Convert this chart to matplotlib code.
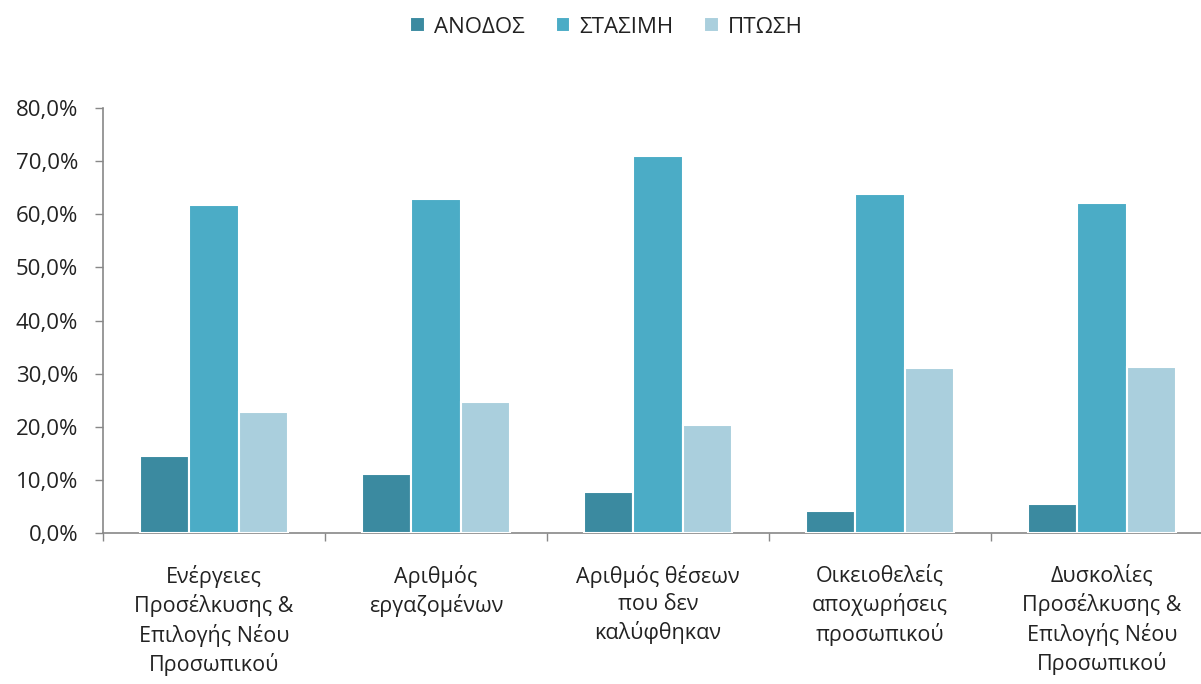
import numpy as np
import matplotlib.pyplot as plt
from matplotlib.ticker import FixedLocator, FuncFormatter

# data (percent)
categories = [
    "Ενέργειες\nΠροσέλκυσης &\nΕπιλογής Νέου\nΠροσωπικού",
    "Αριθμός\nεργαζομένων",
    "Αριθμός θέσεων\nπου δεν\nκαλύφθηκαν",
    "Οικειοθελείς\nαποχωρήσεις\nπροσωπικού",
    "Δυσκολίες\nΠροσέλκυσης &\nΕπιλογής Νέου\nΠροσωπικού",
]
series_names = ["ΑΝΟΔΟΣ", "ΣΤΑΣΙΜΗ", "ΠΤΩΣΗ"]
anodos = [14.5, 11.2, 7.8, 4.1, 5.5]
stasimi = [61.8, 62.9, 70.9, 63.9, 62.2]
ptosi = [22.7, 24.6, 20.3, 31.1, 31.3]
colors = ["#3B8AA0", "#4BACC6", "#AACFDD"]

plt.rcParams["font.family"] = ["Open Sans", "DejaVu Sans"]

W, H = 1201, 684
fig = plt.figure(figsize=(W / 100, H / 100), dpi=100)
# plot area in pixels: left 103, top 108, bottom 533, category width 222
ax = fig.add_axes([103 / W, (H - 533) / H, 1110 / W, 425 / H])

x = np.arange(len(categories))
width = 0.222
offsets = [-width, 0, width]
for vals, name, col, off in zip([anodos, stasimi, ptosi], series_names, colors, offsets):
    ax.bar(x + off, vals, width, color=col, edgecolor="white", linewidth=1.5,
           label=name, zorder=3)

ax.set_xlim(-0.5, len(categories) - 0.5)
ax.set_ylim(0, 80)
ax.set_yticks(np.arange(0, 81, 10))
ax.yaxis.set_major_formatter(FuncFormatter(lambda v, p: f"{v:.1f}%".replace(".", ",")))

ax.set_xticks(x)
ax.set_xticklabels(categories, fontsize=15.5, linespacing=1.36, color="#222222")
ax.tick_params(axis="x", which="major", length=0, pad=23)
ax.xaxis.set_minor_locator(FixedLocator(np.arange(-0.5, len(categories), 1.0)))
ax.tick_params(axis="x", which="minor", length=6, color="#888888", width=1)
ax.tick_params(axis="y", length=6, color="#888888", width=1, labelsize=16,
               labelcolor="#222222", pad=12)

for s in ["top", "right"]:
    ax.spines[s].set_visible(False)
for s in ["left", "bottom"]:
    ax.spines[s].set_color("#888888")
    ax.spines[s].set_linewidth(1.2)

fig.legend(loc="upper center", bbox_to_anchor=(0.505, 1.005), ncol=3, frameon=False,
           fontsize=16, handlelength=0.65, handleheight=0.65, handletextpad=0.4,
           columnspacing=1.4, labelcolor="#222222")

fig.savefig("out.png", dpi=100, facecolor="white")
